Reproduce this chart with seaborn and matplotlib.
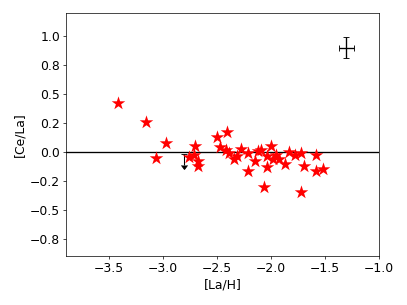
import numpy as np
import pandas as pd
import matplotlib
matplotlib.use("Agg")
import matplotlib.pyplot as plt
import matplotlib.ticker as ticker
import seaborn as sns

# star measurements
la_h = [-3.42, -3.16, -2.97, -3.07, -2.70, -2.76, -2.71, -2.68, -2.68,
        -2.50, -2.41, -2.47, -2.42, -2.39, -2.345, -2.31, -2.28, -2.21,
        -2.21, -2.15, -2.12, -2.09, -2.04, -2.04, -2.00, -2.06, -1.98,
        -1.95, -1.92, -1.87, -1.83, -1.78, -1.72, -1.69, -1.72, -1.58,
        -1.58, -1.52]
ce_la = [0.42, 0.26, 0.076, -0.056, 0.047, -0.045, -0.023, -0.079, -0.12,
         0.13, 0.173, 0.042, 0.02, -0.008, -0.065, -0.037, 0.025, -0.008,
         -0.163, -0.079, 0.005, 0.013, -0.037, -0.135, 0.047, -0.30, -0.065,
         -0.023, -0.065, -0.107, -0.003, -0.031, -0.008, -0.12, -0.35, -0.023,
         -0.163, -0.149]

# upper limit point
lim_x, lim_y, lim_err = -2.81, -0.02, 0.09

# typical error bar
err_x, err_y = -1.30, 0.90
err_dx, err_dy = 0.07, 0.09

df = pd.DataFrame({"[La/H]": la_h, "[Ce/La]": ce_la})

plt.rcParams["font.size"] = 14
fig, ax = plt.subplots(figsize=(6.4, 4.8), dpi=407 / 6.4)

sns.scatterplot(data=df, x="[La/H]", y="[Ce/La]", marker="*", s=260,
                color="red", edgecolor="red", linewidth=0, ax=ax, zorder=3)

ax.errorbar(lim_x, lim_y, yerr=lim_err, uplims=True, color="black",
            capsize=3, lw=1.2)
ax.errorbar(err_x, err_y, xerr=err_dx, yerr=err_dy, color="black",
            capsize=3, lw=1.5)

ax.axhline(0, color="black", lw=1.5, zorder=1)

ax.set_xlim(-3.9, -1.0)
ax.set_ylim(-0.9, 1.2)
ax.yaxis.set_major_locator(ticker.MultipleLocator(0.25))
ax.yaxis.set_major_formatter(
    ticker.FuncFormatter(lambda v, p: f"{v:.1f}".replace("-", "\u2212")))

ax.set_xlabel("[La/H]")
ax.set_ylabel("[Ce/La]")

plt.tight_layout()
plt.savefig("out.png")
